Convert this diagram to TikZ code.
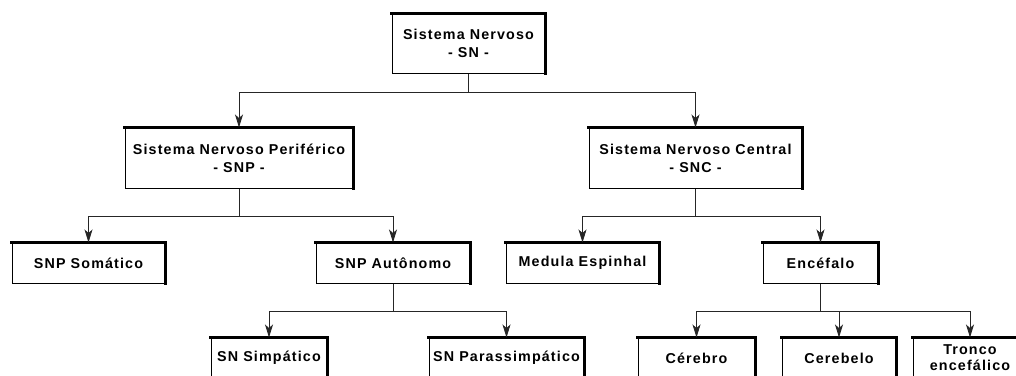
\documentclass[tikz,border=0pt]{standalone}
\usepackage{fontspec}
\newfontfamily\boxfont{Liberation Sans}[LetterSpace=8]
\usetikzlibrary{arrows.meta}
\begin{document}
\begin{tikzpicture}[x=1pt,y=-1pt,
  box/.style={draw=black, line width=1pt, inner sep=0pt, align=center,
    font=\boxfont\bfseries\fontsize{14.3}{18}\selectfont},
  conn/.style={draw=black!85, line width=0.9pt},
  arr/.style={conn, -{Stealth[length=13pt,width=8pt,inset=3.5pt]}},
  shade/.style={line width=3pt, line cap=rect}]
\useasboundingbox (0,0) rectangle (1016,375);
\clip (0,0) rectangle (1016,375);

% boxes of the hierarchy
\node[box, minimum width=153, minimum height=59] (sn)  at (468.5,43.5) {Sistema Nervoso\\- SN -};
\node[box, minimum width=228, minimum height=60] (snp) at (239,158)    {Sistema Nervoso Periférico\\- SNP -};
\node[box, minimum width=213, minimum height=60] (snc) at (695.5,158)  {Sistema Nervoso Central\\- SNC -};
\node[box, minimum width=153, minimum height=40] (som) at (88.5,263)   {SNP Somático};
\node[box, minimum width=154, minimum height=40] (aut) at (393,263)    {SNP Autônomo};
\node[box, minimum width=153, minimum height=40] (med) at (582.5,263)  {Medula Espinhal};
\node[box, minimum width=115, minimum height=40] (enc) at (820.5,263)  {Encéfalo};
\node[box, minimum width=116, minimum height=40] (simp) at (269,358)   {SN Simpático};
\node[box, minimum width=155, minimum height=40] (para) at (506.5,358) {SN Parassimpático};
\node[box, minimum width=117, minimum height=40] (cer) at (696.5,358)  {Cérebro};
\node[box, minimum width=114, minimum height=40] (cbl) at (839,358)    {Cerebelo};
\node[box, minimum width=114, minimum height=40,
      font=\boxfont\bfseries\fontsize{14.3}{16}\selectfont] (tro) at (970,358) {Tronco\\encefálico};

% heavy top and right edges
\foreach \n in {sn,snp,snc,som,aut,med,enc,simp,para,cer,cbl,tro}
  \draw[shade] (\n.north west) -- (\n.north east) -- (\n.south east);

% connectors
\draw[arr] (sn.south) -- (sn.south |- 0,92) -| (snp.north);
\draw[arr] (sn.south |- 0,92) -| (snc.north);

\draw[arr] (snp.south) -- (snp.south |- 0,216) -| (som.north);
\draw[arr] (snp.south |- 0,216) -| (aut.north);

\draw[arr] (snc.south) -- (snc.south |- 0,216) -| (med.north);
\draw[arr] (snc.south |- 0,216) -| (enc.north);

\draw[arr] (aut.south) -- (aut.south |- 0,311) -| (simp.north);
\draw[arr] (aut.south |- 0,311) -| (para.north);

\draw[arr] (enc.south) -- (enc.south |- 0,311) -| (cer.north);
\draw[arr] (enc.south |- 0,311) -| (tro.north);
\draw[arr] (cbl.north |- 0,311) -- (cbl.north);
\end{tikzpicture}
\end{document}
